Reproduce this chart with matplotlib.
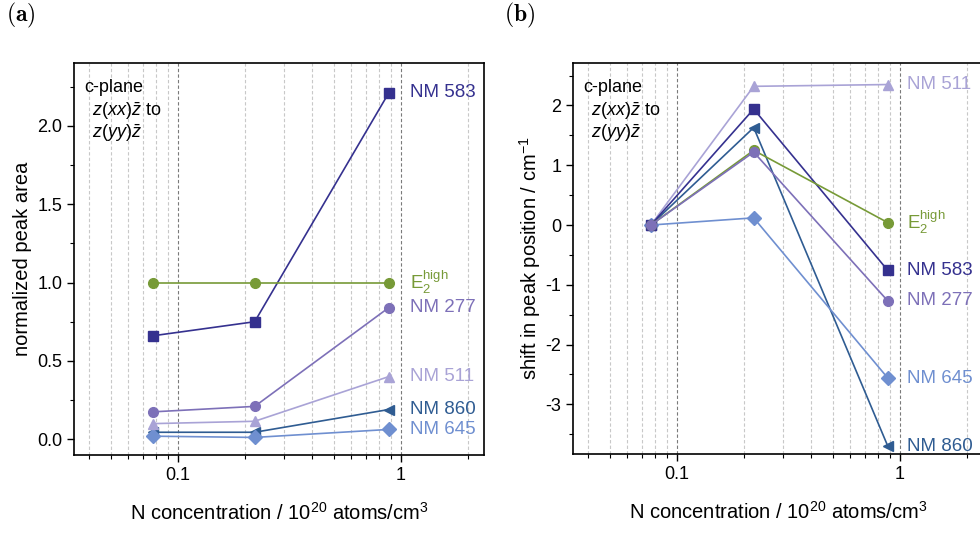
import numpy as np
import matplotlib.pyplot as plt
from matplotlib.ticker import FixedLocator, MultipleLocator, FuncFormatter

plt.rcParams['font.family'] = ['Liberation Sans', 'DejaVu Sans']
plt.rcParams['mathtext.fontset'] = 'custom'
plt.rcParams['mathtext.rm'] = 'Liberation Sans'
plt.rcParams['mathtext.it'] = 'Liberation Sans:italic'
plt.rcParams['mathtext.bf'] = 'Liberation Sans:bold'
plt.rcParams['axes.unicode_minus'] = False

# N concentration (10^20 atoms/cm^3)
conc_a = [0.077, 0.221, 0.883]
conc_b = [0.0764, 0.221, 0.883]

# drawing order (last one ends up on top)
series = ["NM 860", "NM 645", "NM 511", "NM 583", "E2", "NM 277"]
labels = {"NM 583": "NM 583", "E2": r"E$_2^\mathrm{high}$", "NM 277": "NM 277",
          "NM 511": "NM 511", "NM 860": "NM 860", "NM 645": "NM 645"}
colors = {"NM 583": "#35318f", "E2": "#779a37", "NM 277": "#7d70b8",
          "NM 511": "#a9a3d6", "NM 860": "#2f5c92", "NM 645": "#6f8fd0"}
markers = {"NM 583": "s", "E2": "o", "NM 277": "o",
           "NM 511": "^", "NM 860": "<", "NM 645": "D"}

# (a) normalized peak area
area = {"NM 583": [0.66, 0.75, 2.21],
        "E2": [1.0, 1.0, 1.0],
        "NM 277": [0.175, 0.21, 0.84],
        "NM 511": [0.10, 0.115, 0.40],
        "NM 860": [0.045, 0.045, 0.19],
        "NM 645": [0.02, 0.012, 0.063]}

# (b) shift in peak position (cm^-1)
shift = {"NM 583": [0, 1.94, -0.76],
         "E2": [0, 1.25, 0.04],
         "NM 277": [0, 1.22, -1.27],
         "NM 511": [0, 2.32, 2.35],
         "NM 860": [0, 1.63, -3.70],
         "NM 645": [0, 0.12, -2.56]}

fig = plt.figure(figsize=(9.8, 5.47), dpi=100)
ax1 = fig.add_axes([0.0755, 0.1682, 0.4184, 0.7166])
ax2 = fig.add_axes([0.5847, 0.1700, 0.4184, 0.7148])

minor_x = [0.04, 0.05, 0.06, 0.07, 0.08, 0.09, 0.2, 0.3, 0.4, 0.5, 0.6, 0.7, 0.8, 0.9, 2]


def style(ax, ylim, ymaj, ymin, yfmt):
    ax.set_xscale('log')
    ax.set_xlim(0.0342, 2.36)
    ax.set_ylim(*ylim)
    ax.xaxis.set_major_locator(FixedLocator([0.1, 1]))
    ax.xaxis.set_minor_locator(FixedLocator(minor_x))
    ax.xaxis.set_major_formatter(FuncFormatter(lambda v, p: "%g" % v))
    ax.xaxis.set_minor_formatter(FuncFormatter(lambda v, p: ""))
    ax.yaxis.set_major_locator(MultipleLocator(ymaj))
    ax.yaxis.set_minor_locator(MultipleLocator(ymin))
    ax.yaxis.set_major_formatter(FuncFormatter(yfmt))
    for v in minor_x:
        ax.axvline(v, color='#c8c8c8', ls=(0, (3, 2)), lw=0.8, zorder=0)
    for v in [0.1, 1]:
        ax.axvline(v, color='#7a7a7a', ls=(0, (3, 2)), lw=0.8, zorder=0)
    ax.tick_params(which='both', direction='out', labelsize=13, top=False, right=False)
    ax.tick_params(which='major', length=5, width=1)
    ax.tick_params(which='minor', length=3, width=0.8)
    for s in ax.spines.values():
        s.set_linewidth(1.2)
    ax.set_xlabel(r"N concentration / 10$^{20}$ atoms/cm$^3$", fontsize=14.5, labelpad=13)
    ax.text(0.025, 0.96, "c-plane", transform=ax.transAxes, fontsize=13, va='top')
    ax.text(0.045, 0.905, r"$z(xx)\bar{z}$ to", transform=ax.transAxes, fontsize=13, va='top')
    ax.text(0.045, 0.848, r"$z(yy)\bar{z}$", transform=ax.transAxes, fontsize=13, va='top')


style(ax1, (-0.1, 2.4), 0.5, 0.25, lambda v, p: "%.1f" % v)
style(ax2, (-3.83, 2.71), 1, 0.5, lambda v, p: "%d" % round(v))
ax1.set_ylabel("normalized peak area", fontsize=14.5, labelpad=4)
ax2.set_ylabel(r"shift in peak position / cm$^{-1}$", fontsize=14.5, labelpad=2)

for name in series:
    c = colors[name]
    ax1.plot(conc_a, area[name], color=c, marker=markers[name], ms=7, lw=1.2, zorder=3)
    ax1.annotate(labels[name], (conc_a[-1], area[name][-1]), xytext=(15, 0),
                 textcoords='offset points', va='center', ha='left', color=c, fontsize=13.5)
    ax2.plot(conc_b, shift[name], color=c, marker=markers[name], ms=7, lw=1.2, zorder=3)
    ax2.annotate(labels[name], (conc_b[-1], shift[name][-1]), xytext=(14, 0),
                 textcoords='offset points', va='center', ha='left', color=c, fontsize=13.5)

fig.text(0.006, 0.972, r"$\mathbf{(a)}$", fontsize=17, math_fontfamily='cm', va='center')
fig.text(0.514, 0.972, r"$\mathbf{(b)}$", fontsize=17, math_fontfamily='cm', va='center')

plt.savefig("out.png", dpi=100)
